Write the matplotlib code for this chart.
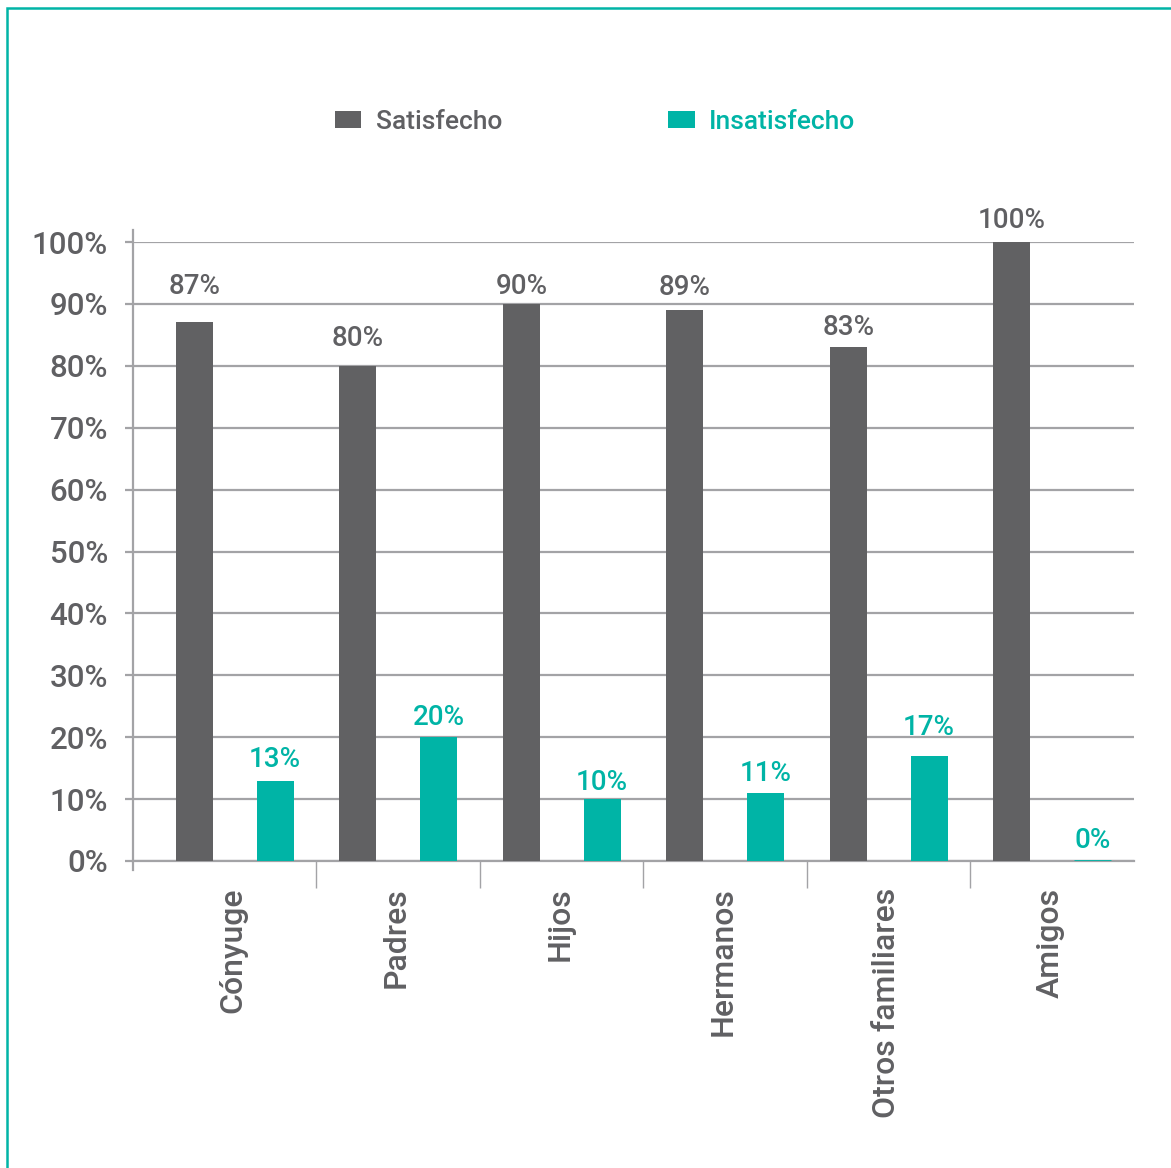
import matplotlib
matplotlib.use("Agg")
import matplotlib.pyplot as plt
import matplotlib.transforms as mtransforms
import numpy as np
from matplotlib.patches import Rectangle, Patch

categories = ["Cónyuge", "Padres", "Hijos", "Hermanos", "Otros familiares", "Amigos"]
satisfecho = [87, 80, 90, 89, 83, 100]
insatisfecho = [13, 20, 10, 11, 17, 0]
series_names = ["Satisfecho", "Insatisfecho"]
yticks = [0, 10, 20, 30, 40, 50, 60, 70, 80, 90, 100]

# label vertical offsets (px above bar top, to label center) – styling only
sat_off = [36, 27, 17, 23, 20, 22]
ins_off = [21, 20, 17, 19, 28, 21]

DARK = "#616163"
TEAL = "#00b4a6"
GRID = "#a3a3a6"
TXT = "#606063"

plt.rcParams['font.family'] = ['Roboto', 'DejaVu Sans']
plt.rcParams['font.weight'] = 'medium'

W, H = 1171, 1168
fig = plt.figure(figsize=(W / 100, H / 100), dpi=100)
fig.patch.set_facecolor("white")

# border (only top and left visible)
fig.add_artist(Rectangle((7 / W, -0.1), 1.2, 1.1 - 8 / H, transform=fig.transFigure,
                         fill=False, edgecolor=TEAL, linewidth=1.8))

ax = fig.add_axes([133 / W, 1 - 861 / H, (1134 - 133) / W, (861 - 242) / H])
x = np.arange(len(categories))
bw = 0.226
off = 0.247
ax.bar(x - off, satisfecho, bw, color=DARK, zorder=3)
ax.bar(x + off, insatisfecho, bw, color=TEAL, zorder=3)
for xi, v in zip(x, insatisfecho):
    if v == 0:
        ax.plot([xi + off - bw / 2, xi + off + bw / 2], [0, 0], color=TEAL, lw=2, zorder=4,
                solid_capstyle='butt')

ax.set_xlim(-0.5 - 20 / 164, 5.5)
ax.set_ylim(0, 100)

ax.set_yticks(yticks)
ax.set_yticklabels([f"{t}%" for t in yticks])
ax.grid(axis='y', color=GRID, linewidth=1.6, zorder=0)
ax.tick_params(axis='y', length=6, width=1.6, color=GRID, labelsize=22.5, labelcolor=TXT, pad=12)

ax.set_xticks(x)
ax.set_xticklabels(categories, rotation=90, va='top', ha='center')
ax.tick_params(axis='x', which='major', length=0, labelsize=23, labelcolor=TXT, pad=19)
ax.set_xticks(np.arange(0.5, 5.5, 1), minor=True)
ax.tick_params(axis='x', which='minor', length=19.5, width=1, color=GRID)
shift = mtransforms.ScaledTranslation(-2 / 100, 0, fig.dpi_scale_trans)
for lbl in ax.get_xticklabels():
    lbl.set_transform(lbl.get_transform() + shift)

for s in ['top', 'right']:
    ax.spines[s].set_visible(False)
ax.spines['bottom'].set_color(GRID)
ax.spines['bottom'].set_linewidth(1.6)
ax.spines['left'].set_visible(False)
ax.plot([0, 0], [-0.015, 1.02], transform=ax.transAxes, color=GRID, lw=1.6, clip_on=False, zorder=1)

for xi, v, o in zip(x, satisfecho, sat_off):
    ax.annotate(f"{v}%", (xi - off, v), xytext=(0, o * 0.72), textcoords='offset points',
                ha='center', va='center', fontsize=20, color=TXT)
for xi, v, o in zip(x, insatisfecho, ins_off):
    ax.annotate(f"{v}%", (xi + off, v), xytext=(0, o * 0.72), textcoords='offset points',
                ha='center', va='center', fontsize=20, color=TEAL)

handles = [Patch(facecolor=DARK), Patch(facecolor=TEAL)]
leg = fig.legend(handles, series_names, loc='center', bbox_to_anchor=(595 / W, 1 - 122 / H),
                 ncol=2, frameon=False, fontsize=19, handlelength=1.0, handleheight=0.6,
                 handletextpad=0.55, columnspacing=6.3)
for t, c in zip(leg.get_texts(), [TXT, TEAL]):
    t.set_color(c)

fig.savefig("out.png", dpi=100, facecolor="white")
